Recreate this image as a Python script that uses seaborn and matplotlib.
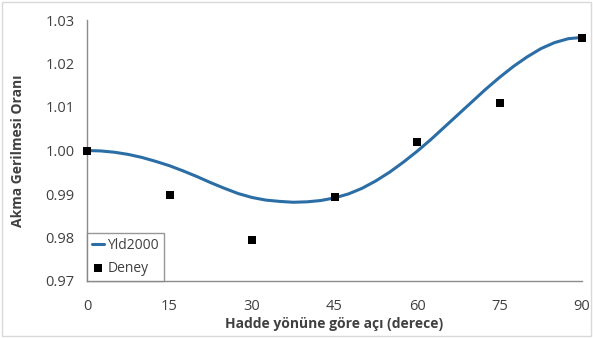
import numpy as np
import pandas as pd
import matplotlib
matplotlib.use("Agg")
import matplotlib.pyplot as plt
import seaborn as sns
from matplotlib.patches import Rectangle

# Data
curve_angles = [0, 2.5, 5, 7.5, 10, 12.5, 15, 17.5, 20, 22.5, 25, 27.5, 30, 32.5, 35, 37.5,
                40, 42.5, 45, 47.5, 50, 52.5, 55, 57.5, 60, 62.5, 65, 67.5, 70, 72.5, 75,
                77.5, 80, 82.5, 85, 87.5, 90]
curve_values = [1.0000, 0.9999, 0.9996, 0.9991, 0.9984, 0.9975, 0.9965, 0.9953, 0.9940,
                0.9926, 0.9913, 0.9901, 0.9892, 0.9886, 0.9883, 0.9881, 0.9882, 0.9885,
                0.9891, 0.9900, 0.9913, 0.9930, 0.9950, 0.9973, 0.9998, 1.0025, 1.0054,
                1.0083, 1.0112, 1.0141, 1.0168, 1.0193, 1.0215, 1.0234, 1.0248, 1.0257, 1.0260]
exp_angles = [0, 15, 30, 45, 60, 75, 90]
exp_values = [1.0000, 0.9898, 0.9794, 0.9893, 1.0020, 1.0110, 1.0258]
xticks = [0, 15, 30, 45, 60, 75, 90]
yticks = [0.97, 0.98, 0.99, 1.00, 1.01, 1.02, 1.03]

sns.set_style("white")
plt.rcParams['font.family'] = ['Open Sans', 'DejaVu Sans']

fig = plt.figure(figsize=(5.93, 3.38), dpi=100)
ax = fig.add_axes([87/593, 1 - 281/338, (582-87)/593, (281-20)/338])

df_curve = pd.DataFrame({"angle": curve_angles, "value": curve_values})
df_exp = pd.DataFrame({"angle": exp_angles, "value": exp_values})

sns.lineplot(data=df_curve, x="angle", y="value", ax=ax, color="#2b6ea6",
             linewidth=2.2, label="Yld2000")
sns.scatterplot(data=df_exp, x="angle", y="value", ax=ax, color="black", marker="s",
                s=30, edgecolor="black", linewidth=0, label="Deney", zorder=5, clip_on=False)

ax.set_xlim(0, 90)
ax.set_ylim(0.97, 1.03)
ax.set_xticks(xticks)
ax.set_yticks(yticks)
ax.set_xticklabels([str(t) for t in xticks], fontsize=10.5, color="#404040")
ax.set_yticklabels([f"{t:.2f}" for t in yticks], fontsize=10.5, color="#404040")
ax.tick_params(axis='y', length=0, pad=9)
ax.tick_params(axis='x', length=0, pad=13)

for side in ["top", "right"]:
    ax.spines[side].set_visible(False)
for side in ["left", "bottom"]:
    ax.spines[side].set_color("#8c8c8c")
    ax.spines[side].set_linewidth(1.0)

ax.set_xlabel("Hadde yönüne göre açı (derece)", fontsize=10, fontweight="bold",
              color="#404040", labelpad=2)
ax.set_ylabel("Akma Gerilmesi Oranı", fontsize=10, fontweight="bold",
              color="#404040", labelpad=15)

leg = ax.legend(loc="lower left", bbox_to_anchor=(0, 0), frameon=True, fancybox=False,
                fontsize=10, handlelength=0.9, handletextpad=0.2, borderpad=0.3,
                labelspacing=0.6, borderaxespad=0, borderpad_kw=None) if False else \
      ax.legend(loc="lower left", bbox_to_anchor=(0, 0), frameon=True, fancybox=False,
                fontsize=10, handlelength=0.9, handletextpad=0.2, borderpad=0.35,
                labelspacing=0.6, borderaxespad=0)
leg.get_frame().set_edgecolor("#7f7f7f")
leg.get_frame().set_linewidth(1.0)
for t in leg.get_texts():
    t.set_color("#404040")

fig.patches.append(Rectangle((2/593, 2/338), 589/593, 334/338, transform=fig.transFigure,
                             fill=False, edgecolor="#d9d9d9", linewidth=1.0))

fig.savefig("out.png", dpi=100)
